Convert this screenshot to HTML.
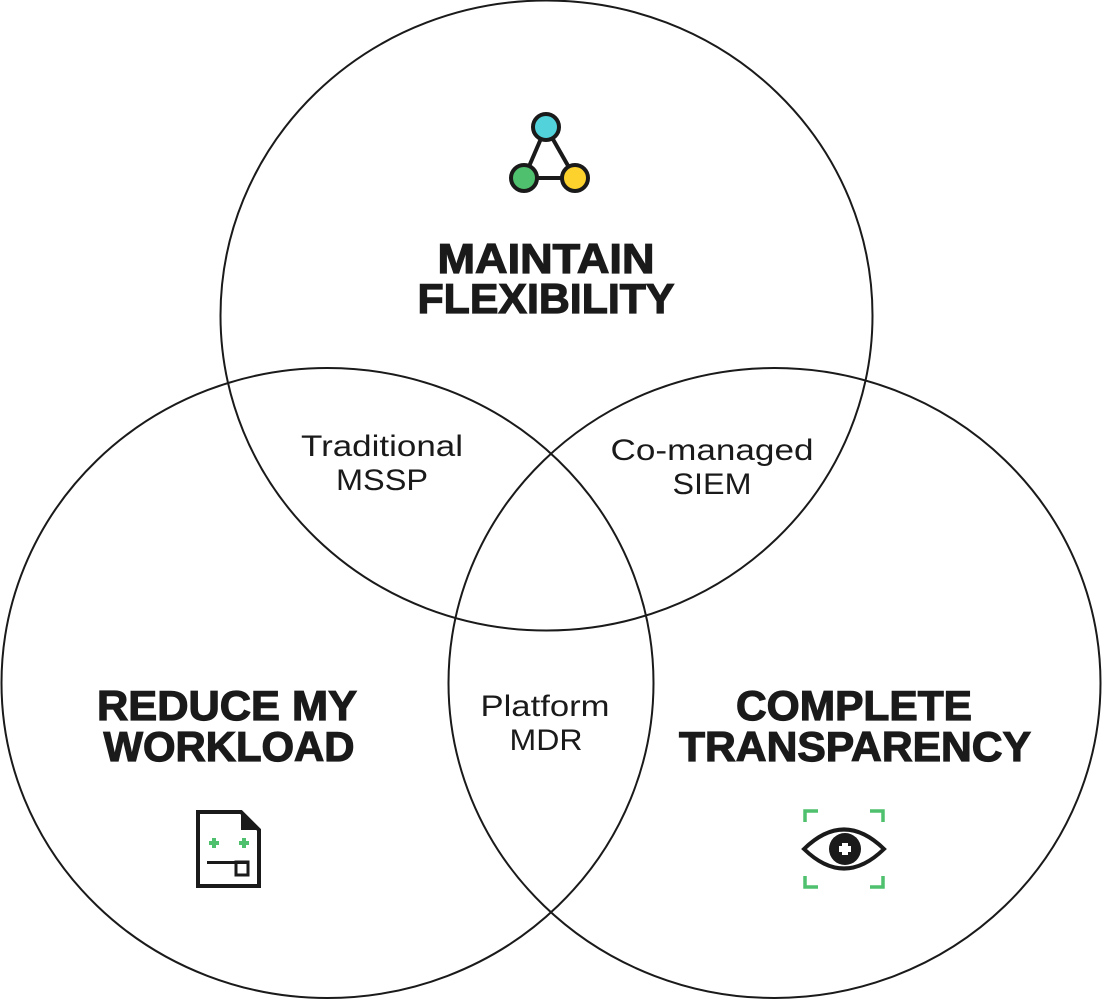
<!DOCTYPE html>
<html><head><meta charset="utf-8"><style>
html,body{margin:0;padding:0;background:#fff;}
svg{display:block;}
.h{font-family:"Liberation Sans",sans-serif;font-weight:900;font-size:42px;fill:#1a1a1a;stroke:#1a1a1a;stroke-width:1.2;}
.s{font-family:"Liberation Sans",sans-serif;font-size:30px;fill:#1a1a1a;}
</style></head><body>
<svg width="1102" height="1000" viewBox="0 0 1102 1000">
<g fill="none" stroke="#1a1a1a" stroke-width="2">
<ellipse cx="546.5" cy="315.5" rx="326" ry="315"/>
<ellipse cx="327.5" cy="683" rx="326" ry="315"/>
<ellipse cx="774.5" cy="683" rx="326" ry="315"/>
</g>
<!-- top icon -->
<g stroke="#1a1a1a" stroke-width="4">
<line x1="546" y1="127" x2="524" y2="178"/>
<line x1="546" y1="127" x2="575" y2="178"/>
<line x1="524" y1="178" x2="575" y2="178"/>
<circle cx="546" cy="127" r="13" fill="#52d3db"/>
<circle cx="524" cy="178" r="13" fill="#4fc06d"/>
<circle cx="575" cy="178" r="13" fill="#fdd22c"/>
</g>
<text class="h" x="546" y="273" text-anchor="middle" textLength="217" lengthAdjust="spacingAndGlyphs">MAINTAIN</text>
<text class="h" x="546" y="313" text-anchor="middle" textLength="257" lengthAdjust="spacingAndGlyphs">FLEXIBILITY</text>
<text class="h" x="227" y="720" text-anchor="middle" textLength="260" lengthAdjust="spacingAndGlyphs">REDUCE MY</text>
<text class="h" x="229" y="761" text-anchor="middle" textLength="251" lengthAdjust="spacingAndGlyphs">WORKLOAD</text>
<text class="h" x="854" y="720" text-anchor="middle" textLength="236" lengthAdjust="spacingAndGlyphs">COMPLETE</text>
<text class="h" x="855" y="761" text-anchor="middle" textLength="352" lengthAdjust="spacingAndGlyphs">TRANSPARENCY</text>
<text class="s" x="382" y="456" text-anchor="middle" textLength="162" lengthAdjust="spacingAndGlyphs">Traditional</text>
<text class="s" x="382" y="490" text-anchor="middle" textLength="92" lengthAdjust="spacingAndGlyphs">MSSP</text>
<text class="s" x="712" y="460" text-anchor="middle" textLength="203" lengthAdjust="spacingAndGlyphs">Co-managed</text>
<text class="s" x="712" y="494" text-anchor="middle" textLength="79" lengthAdjust="spacingAndGlyphs">SIEM</text>
<text class="s" x="545" y="716" text-anchor="middle" textLength="129" lengthAdjust="spacingAndGlyphs">Platform</text>
<text class="s" x="546" y="750" text-anchor="middle" textLength="73" lengthAdjust="spacingAndGlyphs">MDR</text>
<!-- doc icon -->
<g>
<path d="M198 812 H241 L259 830 V886 H198 Z" fill="#fff" stroke="#1a1a1a" stroke-width="4"/>
<path d="M241 812 L259 830 H241 Z" fill="#1a1a1a"/>
<g fill="#4fc06d"><rect x="209" y="841" width="10" height="4"/><rect x="212" y="838" width="4" height="10"/><rect x="239" y="841" width="10" height="4"/><rect x="242" y="838" width="4" height="10"/></g>
<rect x="207" y="861" width="42" height="3" fill="#1a1a1a"/>
<rect x="236" y="862" width="12" height="13" fill="none" stroke="#1a1a1a" stroke-width="3"/>
</g>
<!-- eye icon -->
<g fill="none" stroke="#4fc06d" stroke-width="3.5">
<path d="M805 822 V811 H818"/><path d="M870 811 H883 V822"/>
<path d="M805 876 V887 H818"/><path d="M870 887 H883 V876"/>
</g>
<path d="M804 849 Q844 810 884 849 Q844 888 804 849 Z" fill="none" stroke="#1a1a1a" stroke-width="4"/>
<circle cx="845" cy="849" r="16" fill="#1a1a1a"/>
<rect x="842" y="843" width="6" height="12" fill="#fff"/><rect x="839" y="846" width="12" height="6" fill="#fff"/>
</svg>
</body></html>
